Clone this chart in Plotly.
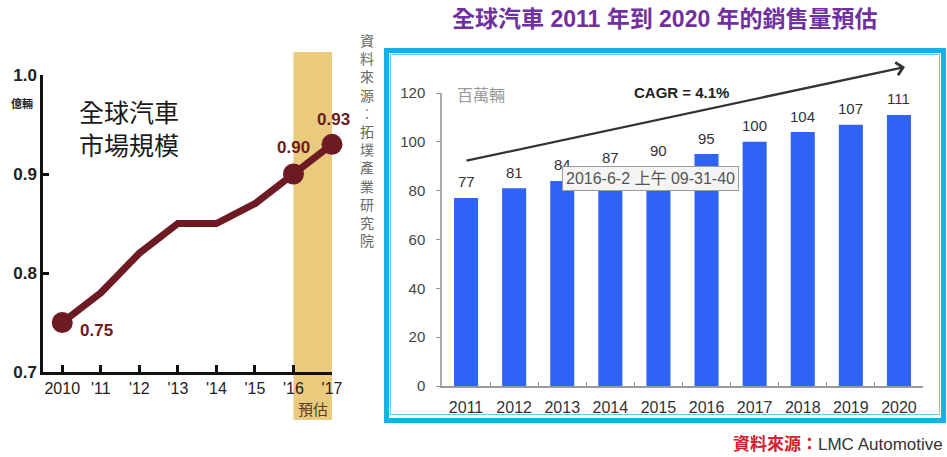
import plotly.graph_objects as go

W, H = 947, 457

# ---------------- data ----------------
left_years = [2010, 2011, 2012, 2013, 2014, 2015, 2016, 2017]
left_ticktext = ["2010", "'11", "'12", "'13", "'14", "'15", "'16", "'17"]
left_values = [0.75, 0.78, 0.82, 0.85, 0.85, 0.87, 0.90, 0.93]
left_label_idx = [0, 6, 7]
left_yticks = [0.7, 0.8, 0.9, 1.0]
left_yticktext = ["0.7", "0.8", "0.9", "1.0"]
forecast_span = [2016, 2017.05]

right_years = ["2011", "2012", "2013", "2014", "2015", "2016", "2017", "2018", "2019", "2020"]
right_values = [77, 81, 84, 87, 90, 95, 100, 104, 107, 111]
right_yticks = [0, 20, 40, 60, 80, 100, 120]


def px(x):
    return x / W


def py(y):
    return 1 - y / H


LAT = "Arial, 'Liberation Sans', 'Noto Sans CJK TC', sans-serif"
CJK = "'Noto Sans CJK TC', 'Noto Sans CJK SC', sans-serif"
MAROON = "#6E1A22"

fig = go.Figure()

# left: line chart (markers only on labelled points)
marker_sizes = [21 if i in left_label_idx else 0 for i in range(len(left_years))]
fig.add_trace(go.Scatter(
    x=left_years, y=left_values, mode="lines+markers",
    line=dict(color=MAROON, width=7),
    marker=dict(color=MAROON, size=marker_sizes, opacity=1, line=dict(width=0)),
    cliponaxis=False, hoverinfo="skip", showlegend=False,
    xaxis="x", yaxis="y",
))

# right: bar chart
fig.add_trace(go.Bar(
    x=right_years, y=right_values, marker=dict(color="#2F63F6", line=dict(width=0)),
    width=0.5, hoverinfo="skip", showlegend=False,
    xaxis="x2", yaxis="y2",
))


def txt(x, y, text, font, **kw):
    d = dict(x=px(x), y=py(y), xref="paper", yref="paper", text=text, showarrow=False,
             xanchor="center", yanchor="middle", font=font)
    d.update(kw)
    return d


ann = []
# left value labels
shifts = {0: (34, -8), 6: (0, 27), 7: (1, 25)}
for i in left_label_idx:
    xs, ys = shifts[i]
    ann.append(dict(x=left_years[i], y=left_values[i], xref="x", yref="y",
                    text=f"{left_values[i]:.2f}", showarrow=False,
                    xanchor="center", yanchor="middle", xshift=xs, yshift=ys,
                    font=dict(family=LAT, size=17, color=MAROON, weight="bold")))

# right value labels (category index positions)
for i, v in enumerate(right_values):
    ann.append(dict(x=i, y=v, xref="x2", yref="y2", text=str(v), showarrow=False,
                    xanchor="center", yanchor="middle", yshift=16,
                    font=dict(family=LAT, size=15, color="#333")))

# left texts
ann += [
    txt(77, 127, "全球汽車<br>市場規模", dict(family=CJK, size=25, color="#1a1a1a"),
        xanchor="left", align="left"),
    txt(22, 103, "億輛", dict(family=CJK, size=11, color="#222", weight="bold")),
    txt(313, 408, "預估", dict(family=CJK, size=15, color="#5a3a28")),
    txt(367, 140, "<br>".join(list("資料來源︰拓墣產業研究院")),
        dict(family=CJK, size=14, color="#666")),
]

# right texts
ann += [
    txt(665, 19, "全球汽車 2011 年到 2020 年的銷售量預估",
        dict(family=LAT, size=23, color="#7030A0", weight="bold")),
    txt(481, 94, "百萬輛", dict(family=CJK, size=16, color="#999")),
    txt(681, 92, "CAGR = 4.1%", dict(family=LAT, size=15, color="#222", weight="bold")),
    dict(x=px(905), y=py(67), xref="paper", yref="paper", ax=-440, ay=94,
         axref="pixel", ayref="pixel", text="", showarrow=True,
         arrowhead=4, arrowsize=1.1, arrowwidth=2.3, arrowcolor="#333"),
    txt(650, 178, "2016-6-2 上午 09-31-40", dict(family=LAT, size=16, color="#555"),
        bgcolor="#f5f5f5", bordercolor="#9a9a9a", borderwidth=1, borderpad=3),
    txt(945, 444, "<span style='color:#D42030'><b>資料來源：</b></span>LMC Automotive",
        dict(family=LAT, size=17, color="#333"), xanchor="right"),
]

shapes = [
    # forecast band
    dict(type="rect", xref="x", yref="paper", x0=forecast_span[0], x1=forecast_span[1],
         y0=py(420), y1=py(52), fillcolor="#EACB7E", line=dict(width=0), layer="below"),
    # cyan frame (double line)
    dict(type="rect", xref="paper", yref="paper", x0=px(386.5), x1=px(943.5),
         y0=py(420.5), y1=py(50.5), line=dict(color="#14B2E6", width=5)),
    dict(type="rect", xref="paper", yref="paper", x0=px(390.5), x1=px(939.5),
         y0=py(414.5), y1=py(54.5), line=dict(color="#6ACBEF", width=1)),
]

fig.update_layout(
    template=None,
    width=W, height=H, margin=dict(l=0, r=0, t=0, b=0, pad=0, autoexpand=False),
    paper_bgcolor="white", plot_bgcolor="rgba(0,0,0,0)",
    font=dict(family=LAT),
    annotations=ann, shapes=shapes, showlegend=False,
    xaxis=dict(domain=[px(43), px(332)], range=[2009.5, 2017], anchor="y", automargin=False,
               tickvals=left_years, ticktext=left_ticktext, ticks="inside", ticklen=7,
               tickwidth=2.5, tickcolor="#111", showline=True, linecolor="#111", linewidth=2.5,
               showgrid=False, zeroline=False, ticklabelstandoff=0,
               tickfont=dict(family=LAT, size=16, color="#222")),
    yaxis=dict(domain=[py(372), py(75)], range=[0.7, 1.0], anchor="x", automargin=False,
               tickvals=left_yticks, ticktext=left_yticktext, ticks="inside", ticklen=6,
               tickwidth=2.5, tickcolor="#111", showline=True, linecolor="#111", linewidth=2.5,
               showgrid=False, zeroline=False,
               tickfont=dict(family=LAT, size=17, color="#222", weight="bold")),
    xaxis2=dict(domain=[px(442), px(923)], range=[-0.5, 9.5], anchor="y2", type="category",
                automargin=False,
                ticks="inside", tickson="boundaries", ticklen=4, tickcolor="#888",
                showline=True, linecolor="#999", linewidth=1.5, showgrid=False,
                ticklabelstandoff=6, tickfont=dict(family=LAT, size=16, color="#333")),
    yaxis2=dict(domain=[py(386), py(93)], range=[0, 120], anchor="x2", automargin=False,
                tickvals=right_yticks, ticks="outside", ticklen=4, tickcolor="#999",
                showline=True, linecolor="#aaa", linewidth=1.5, showgrid=False, zeroline=False,
                ticklabelstandoff=8, tickfont=dict(family=LAT, size=15, color="#444")),
)

fig.write_html("out.html", config={"displayModeBar": False},
               post_script="document.body.style.margin='0';document.body.style.overflow='hidden';")
